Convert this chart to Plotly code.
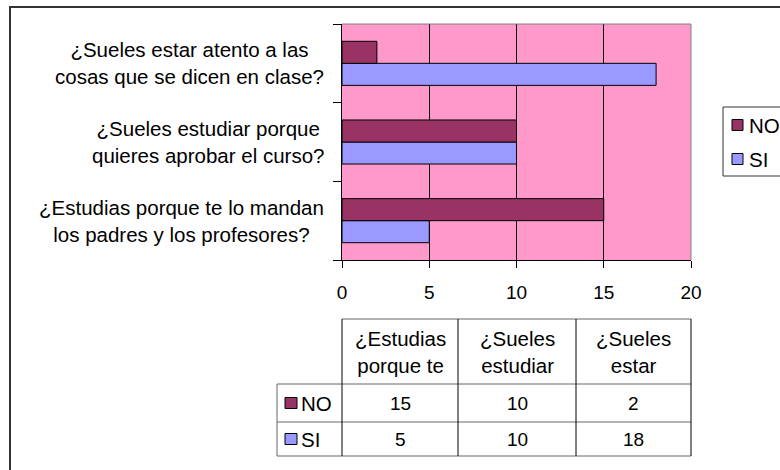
import plotly.graph_objects as go

# ---------------- data ----------------
categories = [
    "¿Estudias porque te lo mandan<br>los padres y los profesores?",
    "¿Sueles estudiar porque<br>quieres aprobar el curso?",
    "¿Sueles estar atento a las<br>cosas que se dicen en clase?",
]
table_headers = ["¿Estudias<br>porque te", "¿Sueles<br>estudiar", "¿Sueles<br>estar"]
series_names = ["NO", "SI"]
no_values = [15, 10, 2]
si_values = [5, 10, 18]
x_ticks = [0, 5, 10, 15, 20]
series_colors = ["#993366", "#9999FF"]

# ---------------- geometry helpers (pixels -> paper) ----------------
W, H = 780, 470
PL, PR, PT, PB = 342, 691, 24, 260


def px(x):
    return (x - PL) / (PR - PL)


def py(y):
    return (PB - y) / (PB - PT)


FONT = "Liberation Sans, Arial, sans-serif"
TXT = 20.5
NUM = 19

fig = go.Figure()
# SI first so it is drawn below NO inside each group
values = {"NO": no_values, "SI": si_values}
color_of = dict(zip(series_names, series_colors))
for name in ["SI", "NO"]:
    fig.add_trace(go.Bar(
        y=categories, x=values[name], orientation="h", name=name,
        marker=dict(color=color_of[name], line=dict(color="black", width=1)),
        showlegend=False, hoverinfo="x+name",
    ))

shapes = []
annotations = []

# outer chart border
shapes.append(dict(type="rect", xref="paper", yref="paper",
                   x0=px(10), x1=px(795), y0=py(7), y1=py(485),
                   line=dict(color="#333333", width=2), layer="below"))
# plot area top/right border (gray)
shapes.append(dict(type="line", xref="paper", yref="paper", x0=0, x1=1, y0=1, y1=1,
                   line=dict(color="#808080", width=1), layer="above"))
shapes.append(dict(type="line", xref="paper", yref="paper", x0=1, x1=1, y0=0, y1=1,
                   line=dict(color="#808080", width=1), layer="above"))

# category labels (centered multi-line text)
for i, cat in enumerate(categories):
    annotations.append(dict(xref="paper", yref="y", x=px(326), y=i, text=cat,
                            xanchor="right", yanchor="middle", align="center",
                            showarrow=False, font=dict(family=FONT, size=TXT, color="black")))

# ---------------- data table ----------------
col_edges = [342, 458, 576, 691]
row_left = 277
y_head_top, y_head_bot, y_no_bot, y_si_bot = 319, 384, 422, 456
hline = dict(color="#666666", width=1)
vline = dict(color="#000000", width=1)
shapes.append(dict(type="line", xref="paper", yref="paper", x0=px(342), x1=px(691),
                   y0=py(y_head_top), y1=py(y_head_top), line=hline))
for yy in [y_head_bot, y_no_bot, y_si_bot]:
    shapes.append(dict(type="line", xref="paper", yref="paper", x0=px(row_left), x1=px(691),
                       y0=py(yy), y1=py(yy), line=hline))
for xx in col_edges:
    shapes.append(dict(type="line", xref="paper", yref="paper", x0=px(xx), x1=px(xx),
                       y0=py(y_head_top), y1=py(y_si_bot), line=vline))
shapes.append(dict(type="line", xref="paper", yref="paper", x0=px(row_left), x1=px(row_left),
                   y0=py(y_head_bot), y1=py(y_si_bot), line=hline))

for j, hdr in enumerate(table_headers):
    cx = (col_edges[j] + col_edges[j + 1]) / 2
    annotations.append(dict(xref="paper", yref="paper", x=px(cx), y=py((y_head_top + y_head_bot) / 2),
                            text=hdr, xanchor="center", yanchor="middle", align="center",
                            showarrow=False, font=dict(family=FONT, size=TXT, color="black")))

row_bounds = {"NO": (y_head_bot, y_no_bot), "SI": (y_no_bot, y_si_bot)}
for name in series_names:
    top, bot = row_bounds[name]
    cy = (top + bot) / 2
    # legend key
    shapes.append(dict(type="rect", xref="paper", yref="paper",
                       x0=px(285), x1=px(297), y0=py(cy - 5.5), y1=py(cy + 5.5),
                       fillcolor=color_of[name], line=dict(color="black", width=1)))
    annotations.append(dict(xref="paper", yref="paper", x=px(299), y=py(cy), text=name,
                            xanchor="left", yanchor="middle", showarrow=False,
                            font=dict(family=FONT, size=TXT, color="black")))
    for j, v in enumerate(values[name]):
        cx = (col_edges[j] + col_edges[j + 1]) / 2
        annotations.append(dict(xref="paper", yref="paper", x=px(cx), y=py(cy), text=str(v),
                                xanchor="center", yanchor="middle", showarrow=False,
                                font=dict(family=FONT, size=NUM, color="black")))

# ---------------- legend (right) ----------------
shapes.append(dict(type="rect", xref="paper", yref="paper",
                   x0=px(723), x1=px(800), y0=py(107), y1=py(176),
                   line=dict(color="#333333", width=1), fillcolor="white"))
for name, cy in zip(series_names, [125, 159]):
    shapes.append(dict(type="rect", xref="paper", yref="paper",
                       x0=px(732), x1=px(743), y0=py(cy - 5.5), y1=py(cy + 5.5),
                       fillcolor=color_of[name], line=dict(color="black", width=1)))
    annotations.append(dict(xref="paper", yref="paper", x=px(747), y=py(cy), text=name,
                            xanchor="left", yanchor="middle", showarrow=False,
                            font=dict(family=FONT, size=TXT, color="black")))

fig.update_layout(
    width=W, height=H,
    margin=dict(l=PL, r=W - PR, t=PT, b=H - PB, pad=0),
    paper_bgcolor="white", plot_bgcolor="#FF99CC",
    barmode="group", bargap=0.44, bargroupgap=0,
    showlegend=False,
    xaxis=dict(range=[0, 20], tickvals=x_ticks, showgrid=True, gridcolor="black", gridwidth=1,
               zeroline=False, showline=True, linecolor="black", linewidth=1,
               ticks="outside", ticklen=7, tickcolor="black", ticklabelstandoff=8,
               tickfont=dict(family=FONT, size=NUM, color="black"), fixedrange=True),
    yaxis=dict(type="category", categoryorder="array", categoryarray=categories,
               range=[-0.5, 2.5], tickson="boundaries", ticks="outside", ticklen=8,
               tickcolor="black", showticklabels=False, showgrid=False, zeroline=False,
               showline=True, linecolor="black", linewidth=1, fixedrange=True),
    shapes=shapes, annotations=annotations,
)

fig.write_html("out.html", config={"displayModeBar": False},
               post_script="document.body.style.margin='0';")
